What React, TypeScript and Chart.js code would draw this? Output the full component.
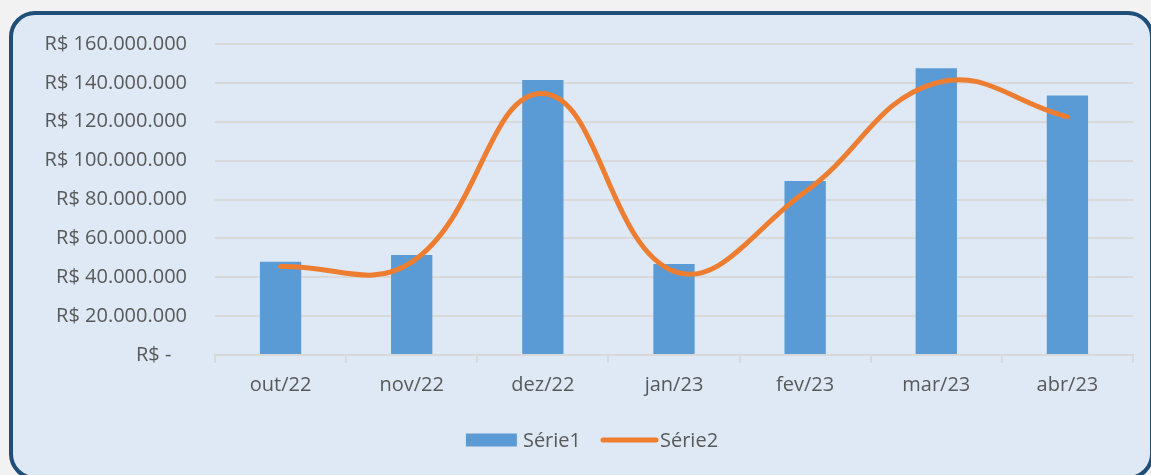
import React, { useEffect, useRef } from "react";
import { Chart, registerables } from "chart.js";

Chart.register(...registerables);

const categories = ["out/22", "nov/22", "dez/22", "jan/23", "fev/23", "mar/23", "abr/23"];
const serie1 = [48000000, 51500000, 141500000, 46800000, 89500000, 147500000, 133500000];
const serie2 = [45500000, 47800000, 134500000, 43000000, 84000000, 140000000, 122500000];
const seriesNames = ["Série1", "Série2"];
const yMax = 160000000;
const yStep = 20000000;

const FONT = "'Open Sans', 'Noto Sans', sans-serif";
const FS = 20;
const TEXT = "#595959";
const BLUE = "#5b9bd5";
const ORANGE = "#ed7d31";
const GRID = "#d9d9d9";

function formatBRL(v: number): string {
  if (v === 0) return "R$ -   ";
  const s = Math.round(v).toString();
  const parts: string[] = [];
  for (let i = s.length; i > 0; i -= 3) parts.unshift(s.substring(Math.max(0, i - 3), i));
  return "R$ " + parts.join(".");
}

const legendPlugin = {
  id: "customLegend",
  afterDraw(chart: any) {
    const ctx = chart.ctx;
    ctx.save();
    ctx.font = `${FS}px ${FONT}`;
    ctx.textBaseline = "middle";
    ctx.fillStyle = TEXT;
    const y = 440;
    const boxW = 51;
    const lineW = 57;
    const gap = 6;
    const itemGap = 20;
    const w1 = ctx.measureText(seriesNames[0]).width;
    const w2 = ctx.measureText(seriesNames[1]).width;
    const total = boxW + gap + w1 + itemGap + lineW + 2 + w2;
    let x = 592 - total / 2;
    ctx.fillStyle = BLUE;
    ctx.fillRect(x, y - 6.5, boxW, 13);
    x += boxW + gap;
    ctx.fillStyle = TEXT;
    ctx.textAlign = "left";
    ctx.fillText(seriesNames[0], x, y + 1);
    x += w1 + itemGap;
    ctx.strokeStyle = ORANGE;
    ctx.lineWidth = 5;
    ctx.lineCap = "round";
    ctx.beginPath();
    ctx.moveTo(x + 2, y);
    ctx.lineTo(x + lineW - 2, y);
    ctx.stroke();
    x += lineW + 2;
    ctx.fillText(seriesNames[1], x, y + 1);
    ctx.restore();
  },
};

export default function App() {
  const ref = useRef<HTMLCanvasElement | null>(null);
  useEffect(() => {
    if (!ref.current) return;
    const chart = new Chart(ref.current, {
      type: "bar",
      data: {
        labels: categories,
        datasets: [
          {
            type: "bar",
            label: seriesNames[0],
            data: serie1,
            backgroundColor: BLUE,
            borderWidth: 0,
            barPercentage: 0.315,
            categoryPercentage: 1,
            order: 2,
          },
          {
            type: "line",
            label: seriesNames[1],
            data: serie2,
            borderColor: ORANGE,
            backgroundColor: ORANGE,
            borderWidth: 5,
            pointRadius: 0,
            tension: 0.42,
            borderCapStyle: "round",
            order: 1,
          } as any,
        ],
      },
      options: {
        responsive: false,
        animation: false,
        layout: { padding: { top: 44, right: 18, bottom: 60, left: 0 } },
        plugins: {
          legend: { display: false },
          tooltip: { enabled: false },
        },
        scales: {
          x: {
            grid: {
              offset: true,
              drawOnChartArea: false,
              drawTicks: true,
              tickLength: 8,
              color: GRID,
              lineWidth: 2,
            },
            border: { display: true, color: GRID, width: 2 },
            ticks: {
              color: TEXT,
              font: { family: FONT, size: FS },
              padding: 10,
            },
            afterFit(scale: any) {
              scale.height = 60;
            },
          },
          y: {
            min: 0,
            max: yMax,
            grid: { color: GRID, lineWidth: 2, drawTicks: false },
            border: { display: false },
            ticks: {
              stepSize: yStep,
              color: TEXT,
              font: { family: FONT, size: FS },
              padding: 28,
              callback: (v: any) => formatBRL(Number(v)),
            },
            afterFit(scale: any) {
              scale.width = 215;
            },
          },
        },
      },
      plugins: [legendPlugin],
    });
    return () => chart.destroy();
  }, []);

  return (
    <div style={{ position: "fixed", left: 0, top: 0, width: 1151, height: 475, background: "#f2f2f2", overflow: "hidden" }}>
      <div
        style={{
          position: "absolute",
          left: 9,
          top: 11,
          width: 1145,
          height: 469,
          boxSizing: "border-box",
          border: "4px solid #1f4e79",
          borderRadius: 26,
          background: "#dee9f5",
        }}
      />
      <canvas ref={ref} width={1151} height={475} style={{ position: "absolute", left: 0, top: 0 }} />
    </div>
  );
}
